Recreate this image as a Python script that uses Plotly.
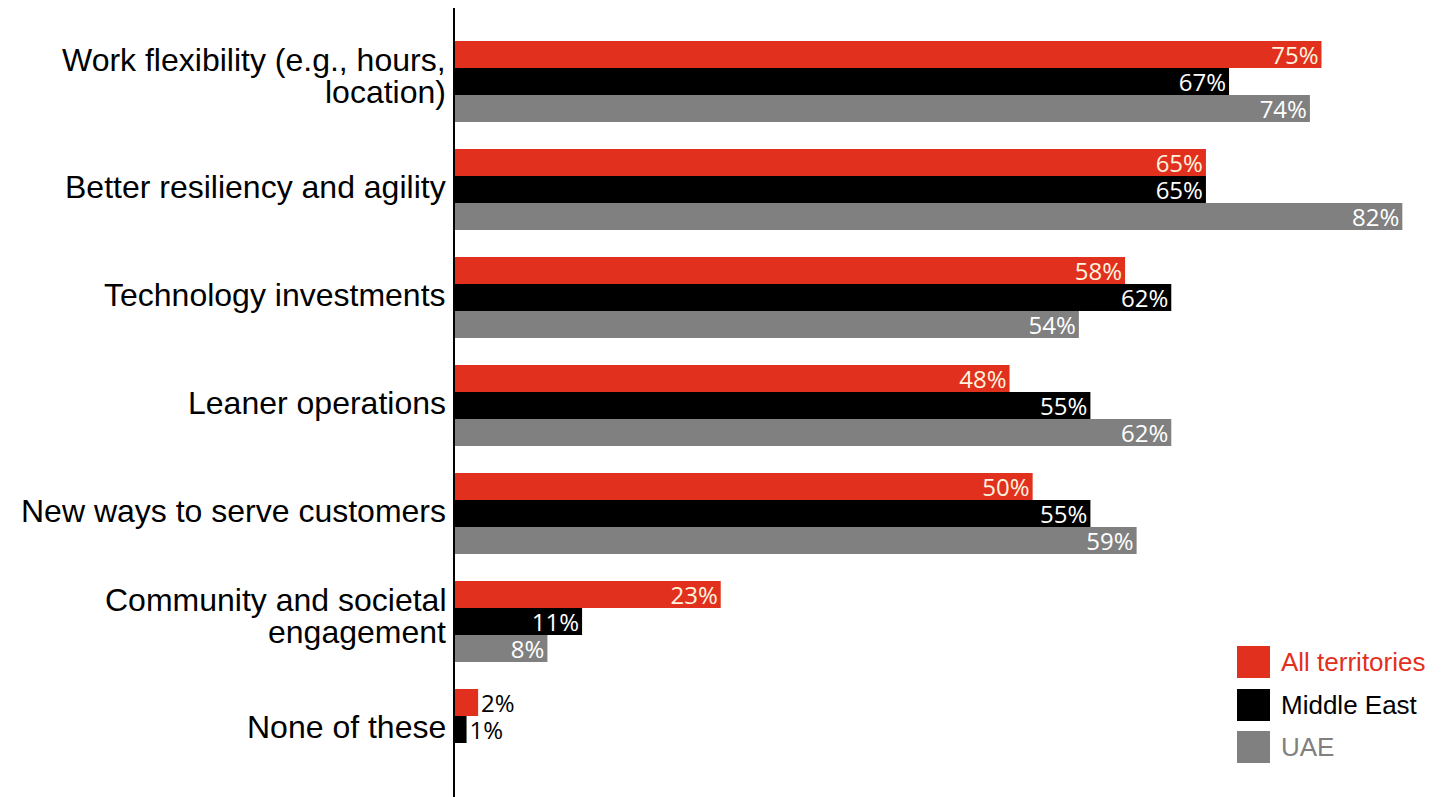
import plotly.graph_objects as go

# Survey categories (top to bottom) and shares per region, in percent
categories = [
    "Work flexibility (e.g., hours,<br>location)",
    "Better resiliency and agility",
    "Technology investments",
    "Leaner operations",
    "New ways to serve customers",
    "Community and societal<br>engagement",
    "None of these",
]
all_territories = [75, 65, 58, 48, 50, 23, 2]
middle_east = [67, 65, 62, 55, 55, 11, 1]
uae = [74, 82, 54, 62, 59, 8, None]

series_names = ["All territories", "Middle East", "UAE"]
series_colors = ["#e1301e", "#000000", "#808080"]
label_colors = ["#fff4df", "#ffffff", "#ffffff"]
legend_text_colors = ["#e1301e", "#000000", "#808080"]

# plot area in pixels (used to place the custom legend)
W, H = 1442, 797
L, R, T, B = 455, 5, 8, 0
PW, PH = W - L - R, H - T - B


def px(x):
    return (x - L) / PW


def py(y):
    return (H - B - y) / PH


fig = go.Figure()
for name, vals, col, lcol in zip(series_names, [all_territories, middle_east, uae],
                                 series_colors, label_colors):
    texts = [f"{v}%" if v is not None else "" for v in vals]
    positions = ["inside" if (v is not None and v >= 5) else "outside" for v in vals]
    text_colors = [lcol if p == "inside" else "#000000" for p in positions]
    fig.add_trace(go.Bar(
        name=name,
        y=categories,
        x=vals,
        orientation="h",
        marker=dict(color=col, line=dict(width=0)),
        text=texts,
        textposition=positions,
        insidetextanchor="end",
        textfont=dict(family="Open Sans", size=24, color=text_colors),
        cliponaxis=False,
        showlegend=False,
    ))

fig.update_layout(
    width=W,
    height=H,
    margin=dict(l=L, r=R, t=T, b=B),
    paper_bgcolor="white",
    plot_bgcolor="white",
    barmode="group",
    bargap=0.25,
    bargroupgap=0,
    uniformtext=dict(minsize=24, mode="show"),
    xaxis=dict(range=[0, 85], showgrid=False, zeroline=False, showticklabels=False,
               ticks="", fixedrange=True),
    yaxis=dict(
        categoryorder="array",
        categoryarray=categories,
        range=[6.625, -0.68],
        showgrid=False,
        zeroline=False,
        showline=True,
        linecolor="#000000",
        linewidth=1.5,
        ticks="",
        showticklabels=False,
    ),
)

shapes = []
annotations = []

# category labels, one annotation per line for tight line spacing
line_step = 32
for cat in categories:
    lines = cat.split("<br>")
    n = len(lines)
    lift = 2 if n == 1 else 5
    for k, line in enumerate(lines):
        offset = ((n - 1) / 2 - k) * line_step + lift
        annotations.append(dict(xref="paper", yref="y", x=0, y=cat, xshift=-7,
                                yshift=offset, xanchor="right", yanchor="middle",
                                showarrow=False, text=line,
                                font=dict(family="Liberation Sans", size=32, color="#000000")))

# legend: coloured squares with coloured labels, bottom right
legend_rows = [646, 689, 731]
for name, col, tcol, top in zip(series_names, series_colors, legend_text_colors, legend_rows):
    shapes.append(dict(type="rect", xref="paper", yref="paper",
                       x0=px(1237), x1=px(1270), y0=py(top + 32), y1=py(top),
                       fillcolor=col, line=dict(width=0)))
    annotations.append(dict(xref="paper", yref="paper", x=px(1279), y=py(top + 16),
                            xanchor="left", yanchor="middle", showarrow=False,
                            text=name,
                            font=dict(family="Liberation Sans", size=26, color=tcol)))
fig.update_layout(shapes=shapes, annotations=annotations)

fig.write_html("out.html")
